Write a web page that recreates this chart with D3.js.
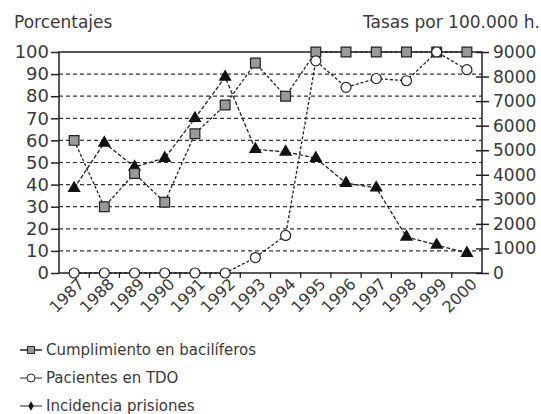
<!DOCTYPE html>
<html><head><meta charset="utf-8">
<script src="https://cdn.jsdelivr.net/npm/d3@7"></script>
<style>body{margin:0;background:#fff}svg{font-family:"DejaVu Sans",sans-serif}</style>
</head><body><svg id="c" width="541" height="414"></svg>
<script>
const years = ["1987","1988","1989","1990","1991","1992","1993","1994","1995","1996","1997","1998","1999","2000"];
const cumplimiento = [60,30,45,32,63,76,95,80,100,100,100,100,100,100];
const pacientesTDO = [0,0,0,0,0,0,7,17,96,84,88,87,100,92];
const incidencia = [3450,5300,4320,4680,6300,7980,5040,4930,4680,3660,3470,1470,1140,810];
const leftTicks = [0,10,20,30,40,50,60,70,80,90,100];
const rightTicks = [0,1000,2000,3000,4000,5000,6000,7000,8000,9000];
const legendLabels = ["Cumplimiento en bacilíferos","Pacientes en TDO","Incidencia prisiones"];

const svg = d3.select("#c");
const m = {l:59, r:482, t:52, b:273};
const x = d3.scaleBand().domain(years).range([m.l, m.r]);
const cx = d => x(d) + x.bandwidth()/2;
const yL = d3.scaleLinear().domain([0,100]).range([m.b, m.t]);
const yR = d3.scaleLinear().domain([0,9000]).range([m.b, m.t]);
const ink = "#222";
const txt = "#3a3a3a";

// grid
svg.append("g").selectAll("line").data(leftTicks.filter(d=>d>0 && d<100)).join("line")
  .attr("x1", m.l).attr("x2", m.r).attr("y1", d=>yL(d)).attr("y2", d=>yL(d))
  .attr("stroke", "#333").attr("stroke-width", 1.2).attr("stroke-dasharray", "4,3");
// frame
svg.append("rect").attr("x", m.l).attr("y", m.t).attr("width", m.r-m.l).attr("height", m.b-m.t)
  .attr("fill","none").attr("stroke", ink).attr("stroke-width", 1.5);

// left axis
const gl = svg.append("g").attr("transform", `translate(${m.l},0)`)
  .call(d3.axisLeft(yL).tickValues(leftTicks).tickSize(8).tickPadding(2));
gl.select(".domain").remove();
gl.selectAll("line").attr("stroke", ink).attr("stroke-width", 1.5);
gl.selectAll("text").attr("font-size", 18).attr("fill", txt).attr("font-family","DejaVu Sans");

// right axis
const gr = svg.append("g").attr("transform", `translate(${m.r},0)`)
  .call(d3.axisRight(yR).tickValues(rightTicks).tickFormat(d3.format("d")).tickSize(7).tickPadding(4));
gr.select(".domain").remove();
gr.selectAll("line").attr("stroke", ink).attr("stroke-width", 1.5).attr("x1", -6);
gr.selectAll("text").attr("font-size", 17).attr("fill", txt).attr("font-family","DejaVu Sans");

// bottom axis
const gb = svg.append("g").attr("transform", `translate(0,${m.b})`)
  .call(d3.axisBottom(x).tickSize(0).tickPadding(0));
gb.select(".domain").remove();
gb.selectAll(".tick line").remove();
svg.append("g").selectAll("line").data(years.slice(1)).join("line")
  .attr("x1", d=>x(d)).attr("x2", d=>x(d)).attr("y1", m.b-1).attr("y2", m.b+5)
  .attr("stroke", ink).attr("stroke-width", 1.3);
gb.selectAll("text").attr("font-size", 16).attr("fill", txt).attr("font-family","DejaVu Sans")
  .attr("text-anchor","end")
  .attr("transform", "translate(7,8) rotate(-45)")
  .attr("dy", "0.35em");

// titles
svg.append("text").attr("x", 14).attr("y", 28).attr("font-size", 17).attr("fill",txt).text("Porcentajes");
svg.append("text").attr("x", 540).attr("y", 28).attr("font-size", 17).attr("fill",txt).attr("text-anchor","end").text("Tasas por 100.000 h.");

// lines
const lineL = d3.line().x((d,i)=>cx(years[i])).y(d=>yL(d));
const lineR = d3.line().x((d,i)=>cx(years[i])).y(d=>yR(d));
svg.append("path").attr("d", lineL(cumplimiento)).attr("fill","none").attr("stroke",ink).attr("stroke-width",1.3).attr("stroke-dasharray","3,2");
svg.append("path").attr("d", lineL(pacientesTDO)).attr("fill","none").attr("stroke",ink).attr("stroke-width",1.3).attr("stroke-dasharray","3,2");
svg.append("path").attr("d", lineR(incidencia)).attr("fill","none").attr("stroke",ink).attr("stroke-width",1.3).attr("stroke-dasharray","4,2");

const sq = d3.symbol().type(d3.symbolSquare).size(95);
const tri = d3.symbol().type(d3.symbolTriangle).size(75);
svg.append("g").selectAll("path").data(incidencia).join("path")
  .attr("d", tri).attr("transform",(d,i)=>`translate(${cx(years[i])},${yR(d)})`).attr("fill","#111");
svg.append("g").selectAll("path").data(cumplimiento).join("path")
  .attr("d", sq).attr("transform",(d,i)=>`translate(${cx(years[i])},${yL(d)})`)
  .attr("fill","#999").attr("stroke",ink).attr("stroke-width",1.2);
svg.append("g").selectAll("circle").data(pacientesTDO).join("circle")
  .attr("cx",(d,i)=>cx(years[i])).attr("cy",d=>yL(d)).attr("r",5)
  .attr("fill","#fff").attr("stroke",ink).attr("stroke-width",1.2);

// legend
const lg = svg.append("g");
const ly = [350, 378, 406];
legendLabels.forEach((t,i)=>{
  lg.append("line").attr("x1",20).attr("x2",42).attr("y1",ly[i]).attr("y2",ly[i])
    .attr("stroke", ink).attr("stroke-width", i===0?1.5:1);
  if(i===0) lg.append("path").attr("d", d3.symbol().type(d3.symbolSquare).size(50)).attr("transform",`translate(31,${ly[i]})`).attr("fill","#999").attr("stroke",ink);
  if(i===1) lg.append("circle").attr("cx",31).attr("cy",ly[i]).attr("r",4).attr("fill","#fff").attr("stroke",ink);
  if(i===2) lg.append("path").attr("d", d3.symbol().type(d3.symbolDiamond).size(25)).attr("transform",`translate(31,${ly[i]})`).attr("fill","#111");
  lg.append("text").attr("x",46).attr("y",ly[i]).attr("dy","0.35em").attr("font-size",15).attr("fill",txt).text(t);
});
</script></body></html>
